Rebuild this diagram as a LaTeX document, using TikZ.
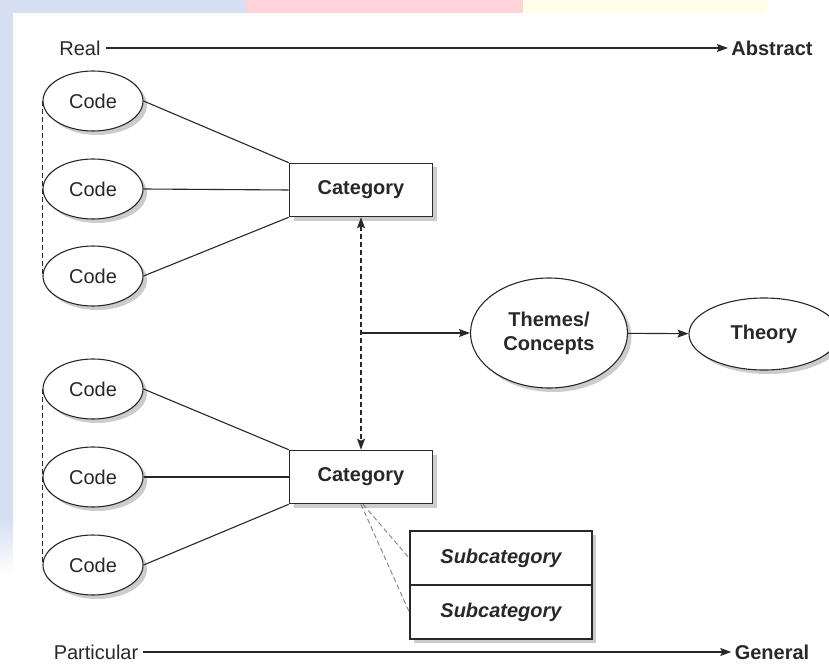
\documentclass[tikz,border=0pt]{standalone}
\usepackage{fontspec}
\setmainfont{Liberation Sans}
\usetikzlibrary{arrows.meta,shapes.geometric,shadows,positioning}

\definecolor{bandblue}{RGB}{214,224,242}
\definecolor{bandpink}{RGB}{255,212,216}
\definecolor{bandyellow}{RGB}{255,252,232}
\definecolor{inkgray}{RGB}{40,40,40}

\begin{document}
\begin{tikzpicture}[x=1pt,y=-1pt,
  font=\fontsize{20}{24}\selectfont,
  >={Stealth[length=11pt,width=8pt,inset=2pt]},
  shadowed/.style={drop shadow={shadow xshift=4pt,shadow yshift=-4pt,fill=black!20,opacity=1}},
  codeell/.style={ellipse,draw=inkgray,line width=1.1pt,fill=white,shadowed,
    minimum width=100pt,minimum height=60pt,inner sep=0pt,text=inkgray},
  bigell/.style={codeell,font=\fontsize{20}{24}\selectfont\bfseries,align=center},
  catbox/.style={rectangle,draw=inkgray,line width=1.6pt,fill=white,shadowed,
    minimum width=143pt,minimum height=53pt,text=inkgray,
    font=\fontsize{20}{24}\selectfont\bfseries},
  subbox/.style={catbox,minimum width=182pt,minimum height=54pt,
    font=\fontsize{20}{24}\selectfont\bfseries\itshape},
  link/.style={draw=inkgray,line width=1.1pt},
  dashlink/.style={link,dash pattern=on 5pt off 3pt},
  ]

\useasboundingbox (0,0) rectangle (829,671);

\fill[bandblue] (0,0) rectangle (246,13);
\fill[bandpink] (246,0) rectangle (523,13);
\fill[bandyellow] (523,0) rectangle (767,13);
\fill[bandblue] (0,13) rectangle (13,520);
\shade[top color=bandblue,bottom color=white] (0,520) rectangle (13,575);

\node[text=inkgray,inner xsep=5pt] (real) at (80,48) {Real};
\node[text=inkgray,font=\fontsize{20}{24}\selectfont\bfseries] (abstract) at (772,48) {Abstract};
\draw[link,->] (real) -- (abstract);

\foreach \i/\y in {1/101,2/189,3/276,4/389,5/477,6/565}
    \node[codeell] (c\i) at (93,\y) {Code};

\node[catbox] (cat1) at (361,190) {Category};
\node[catbox] (cat2) at (361,477) {Category};

\node[bigell,minimum width=157pt,minimum height=110pt] (themes) at (549,333) {Themes/\\Concepts};
\node[bigell,minimum width=150pt,minimum height=72pt] (theory) at (764,334) {Theory};

\node[subbox] (sub1) at (501,558) {Subcategory};
\node[subbox] (sub2) at (501,612) {Subcategory};

\draw[dashlink] (c1.west) -- (c3.west);
\draw[dashlink] (c4.west) -- (c6.west);

\foreach \a/\b in {1/1,4/2} {
    \pgfmathtruncatemacro{\mid}{\a+1}
    \pgfmathtruncatemacro{\low}{\a+2}
    \draw[link] (c\a.east) -- (cat\b.north west);
    \draw[link] (c\mid.east) -- (cat\b.west);
    \draw[link] (c\low.east) -- (cat\b.south west);
}

\draw[dashlink,<->] (cat1.south) -- (cat2.north);
\coordinate (split) at (cat1.south |- themes.west);
\draw[link,->] (split) -- (themes);
\draw[link,->] (themes) -- (theory);

\draw[dashlink,draw=gray,line width=0.9pt] ([xshift=2pt]cat2.south) -- (sub1.west);
\draw[dashlink,draw=gray,line width=0.9pt] (cat2.south) -- (sub2.west);

\node[text=inkgray,inner xsep=5pt] (particular) at (96,652) {Particular};
\node[text=inkgray,font=\fontsize{20}{24}\selectfont\bfseries] (general) at (772,652) {General};
\draw[link,->] (particular) -- (general);

\end{tikzpicture}
\end{document}
